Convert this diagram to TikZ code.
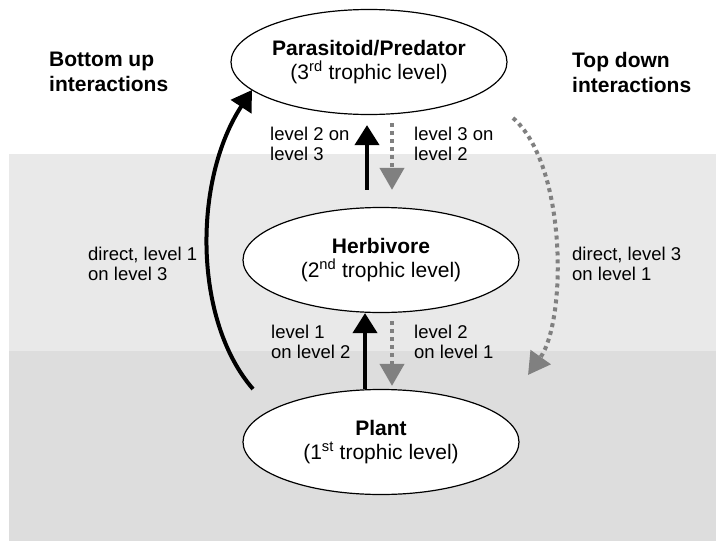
\documentclass[tikz,border=0pt]{standalone}
\usepackage{fontspec}
\setmainfont{Liberation Sans}
\usepackage{xcolor}
\usetikzlibrary{arrows.meta,calc,shapes.geometric}
\definecolor{lightband}{RGB}{233,233,233}
\definecolor{darkband}{RGB}{221,221,221}
\definecolor{dotgray}{RGB}{128,128,128}
\tikzset{
troph/.style={
draw,
ellipse,
fill=white,
line width=1.2pt,
minimum width=276pt,
minimum height=105pt,
inner sep=0pt,
align=center,
font=\fontsize{21}{24}\selectfont
},
heading/.style={
anchor=west,
align=left,
inner sep=0pt,
font=\fontsize{21}{25}\selectfont\bfseries
},
lbl/.style={
anchor=west,
align=left,
inner sep=0pt,
font=\fontsize{18.5}{20}\selectfont
},
uparrow/.style={
-{Triangle[length=20pt,width=24pt]},
line width=4pt
},
downarrow/.style={
-{Triangle[length=22pt,width=24pt]},
dotgray,
line width=4pt,
dash pattern=on 4pt off 4pt
}
}

\begin{document}
\begin{tikzpicture}[x=1pt,y=-1pt]
\useasboundingbox (0,0) rectangle (716,541);
% bands
\fill[lightband] (9,154) rectangle (716,351);
\fill[darkband] (9,351) rectangle (716,541);

\node[troph](pred) at (369,62){\textbf{Parasitoid/Predator}\\(3\textsuperscript{rd} trophic level)};
\node[troph](herb) at (381,260){\textbf{Herbivore}\\(2\textsuperscript{nd} trophic level)};
\node[troph](plant) at (381,442){\textbf{Plant}\\(1\textsuperscript{st} trophic level)};

\node[heading](botup) at (49,72){Bottom up\\interactions};
\node[heading](topdown) at (572,72){Top down\\interactions};

\node[lbl](l23) at (270,144){level 2 on\\level 3};
\node[lbl](l32) at (414,144){level 3 on\\level 2};
\node[lbl](d13) at (88,264){direct, level 1\\on level 3};
\node[lbl](d31) at (572,264){direct, level 3\\on level 1};
\node[lbl](l12) at (271,342){level 1\\on level 2};
\node[lbl](l21) at (414,342){level 2\\on level 1};

% bottom up
\draw[uparrow]($(herb.north)+(-14,-17)$)--($(pred.south)+(-2,10)$);
\draw[uparrow]($(plant.north)+(-16,0)$)--($(herb.south)+(-16,0)$);
\draw[uparrow]($(plant.center)+(-128,-53)$) .. controls (193,320) and (193,180) .. ($(pred.center)+(-117,28)$);

% top down
\draw[downarrow]($(pred.south)+(23,8)$)--($(herb.north)+(11,-17)$);
\draw[downarrow]($(herb.south)+(11,8)$)--($(plant.north)+(11,-3)$);
\draw[downarrow]($(pred.center)+(144,56)$) .. controls (567,165) and (567,320) .. ($(plant.center)+(147,-67)$);
\end{tikzpicture}
\end{document}
